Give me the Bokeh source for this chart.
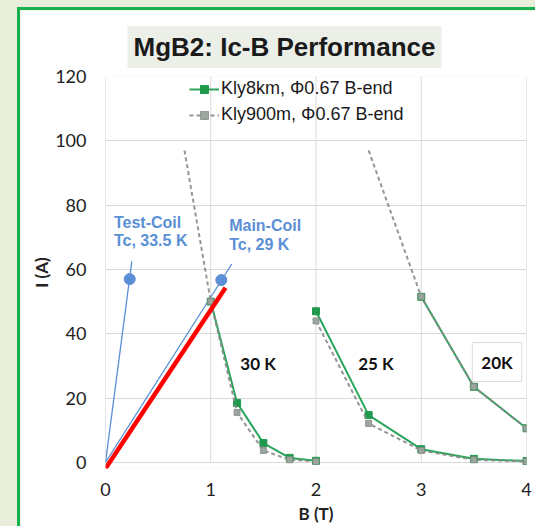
from bokeh.plotting import figure
from bokeh.models import Range1d, Legend, LegendItem, Label, FixedTicker
from bokeh.layouts import column
from bokeh.embed import file_html
from bokeh.resources import INLINE

# Ic-B curves of MgB2 wire: field B (T) vs critical current I (A)
b_30k = [1.0, 1.25, 1.5, 1.75, 2.0]
kly8km_30k = [50, 18.5, 6, 1.4, 0.5]
b_25k = [2.0, 2.5, 3.0, 3.5, 4.0]
kly8km_25k = [47, 14.7, 4.1, 1.1, 0.4]
b_20k = [3.0, 3.5, 4.0]
kly8km_20k = [51.5, 23.5, 10.6]

kly900m_b_30k = [0.75, 1.0, 1.25, 1.5, 1.75, 2.0]
kly900m_30k = [97, 50, 15.5, 3.7, 0.8, 0.3]
kly900m_b_25k = [2.0, 2.5, 3.0, 3.5, 4.0]
kly900m_25k = [44, 12.1, 3.7, 0.8, 0.3]
kly900m_b_20k = [2.5, 3.0, 3.5, 4.0]
kly900m_20k = [97, 51.5, 23.5, 10.6]

# coil load lines and their operating points
test_coil_b = [0.0, 0.25]
test_coil_i = [0.0, 62.5]
test_coil_pt_b = [0.23]
test_coil_pt_i = [57]
main_coil_b = [0.0, 1.2]
main_coil_i = [0.0, 61.7]
main_coil_pt_b = [1.1]
main_coil_pt_i = [56.7]
ramp_b = [0.0, 1.14]
ramp_i = [-1.9, 54.3]

x_ticks = [0, 1, 2, 3, 4]
y_ticks = [0, 20, 40, 60, 80, 100, 120]

GREEN = "#2aa55b"
GRAY = "#8a8a8a"
BLUE = "#5b8fd6"

p = figure(width=518, height=519, x_range=Range1d(0, 4), y_range=Range1d(-1.9, 120),
           output_backend="svg", toolbar_location=None,
           min_border_left=85, min_border_right=12, min_border_top=66, min_border_bottom=61)
p.outline_line_color = None
p.background_fill_color = "white"
p.border_fill_color = "white"

# chart title
p.title.text = "MgB2: Ic-B Performance"
p.title.align = "left"
p.title.offset = 22
p.title.standoff = 17
p.title.text_font = "Liberation Sans"
p.title.text_font_style = "bold"
p.title.text_font_size = "26px"
p.title.text_color = "#1a1a1a"
p.title.background_fill_color = "#eceee8"
p.title.padding = 6

# grid: horizontal lines from the y grid, vertical lines stop at I = 0
p.xgrid.visible = False
p.ygrid.ticker = FixedTicker(ticks=y_ticks)
p.ygrid.grid_line_color = "#d9d9d9"
p.segment(x0=x_ticks, y0=[0] * len(x_ticks), x1=x_ticks, y1=[120] * len(x_ticks),
          line_color="#d9d9d9", line_width=1)

for ax in (p.xaxis[0], p.yaxis[0]):
    ax.axis_line_color = None
    ax.major_tick_line_color = None
    ax.minor_tick_line_color = None
    ax.major_tick_out = 0
    ax.major_tick_in = 0
    ax.minor_tick_out = 0
    ax.minor_tick_in = 0
    ax.major_label_text_font = "Lato"
    ax.major_label_text_font_size = "18px"
    ax.major_label_text_color = "#222222"
    ax.axis_label_text_font = "Lato"
    ax.axis_label_text_font_style = "bold"
    ax.axis_label_text_font_size = "17px"
    ax.axis_label_text_color = "#222222"

p.xaxis.ticker = FixedTicker(ticks=x_ticks)
p.yaxis.ticker = FixedTicker(ticks=y_ticks)
p.xaxis.axis_label = "B (T)"
p.yaxis.axis_label = "I (A)"
p.xaxis.major_label_standoff = 14
p.yaxis.major_label_standoff = 19
p.xaxis.axis_label_standoff = 4
p.yaxis.axis_label_standoff = 0

# coil load lines
p.line(test_coil_b, test_coil_i, line_color=BLUE, line_width=1.3)
p.line(main_coil_b, main_coil_i, line_color=BLUE, line_width=1.3)
p.scatter(test_coil_pt_b, test_coil_pt_i, marker="circle", size=11, fill_color=BLUE, line_color=BLUE)
p.scatter(main_coil_pt_b, main_coil_pt_i, marker="circle", size=11, fill_color=BLUE, line_color=BLUE)

# Kly8km
g_lines, g_pts = [], []
for bx, iy in ((b_30k, kly8km_30k), (b_25k, kly8km_25k), (b_20k, kly8km_20k)):
    g_lines.append(p.line(bx, iy, line_color=GREEN, line_width=2))
    g_pts.append(p.scatter(bx, iy, marker="square", size=7, fill_color="#1f9a4d", line_color="#1f9a4d"))

# Kly900m (the first, off-scale point of a curve carries no marker)
k_lines, k_pts = [], []
for bx, iy in ((kly900m_b_30k, kly900m_30k), (kly900m_b_25k, kly900m_25k), (kly900m_b_20k, kly900m_20k)):
    k_lines.append(p.line(bx, iy, line_color=GRAY, line_width=2, line_dash="4 3", line_alpha=0.9))
    start = 1 if iy[0] > 90 else 0
    k_pts.append(p.scatter(bx[start:], iy[start:], marker="square", size=6,
                           fill_color="#9aa79e", line_color=GRAY, line_alpha=0.8))

# ramp line
p.line(ramp_b, ramp_i, line_color="#ff0000", line_width=4.5)

legend = Legend(items=[
    LegendItem(label="Kly8km, \u03a60.67 B-end", renderers=[g_lines[0], g_pts[0]]),
    LegendItem(label="Kly900m, \u03a60.67 B-end", renderers=[k_lines[0], k_pts[0]]),
], location=(84, 343))
legend.background_fill_alpha = 0
legend.border_line_color = None
legend.padding = 0
legend.margin = 0
legend.spacing = 5
legend.glyph_width = 30
legend.glyph_height = 20
legend.label_height = 20
legend.label_standoff = 2
legend.label_text_font = "Liberation Sans"
legend.label_text_font_size = "18px"
legend.label_text_color = "#1a1a1a"
p.add_layout(legend)

# temperature labels
for txt, bx in (("30 K", 1.45), ("25 K", 2.57)):
    p.add_layout(Label(x=bx, y=30.7, text=txt, text_font="Lato", text_font_style="bold",
                       text_font_size="17px", text_color="#111111",
                       text_align="center", text_baseline="middle"))
p.add_layout(Label(x=3.72, y=31.2, text="20K", text_font="Lato", text_font_style="bold",
                   text_font_size="17px", text_color="#111111", text_align="center",
                   text_baseline="middle", background_fill_color="white",
                   border_line_color="#dcdcdc", padding=9))

# coil annotations
for txt, bx, iy in (("Test-Coil", 0.08, 74.7), ("Tc, 33.5 K", 0.08, 69.0),
                    ("Main-Coil", 1.175, 73.6), ("Tc, 29 K", 1.175, 67.8)):
    p.add_layout(Label(x=bx, y=iy, text=txt, text_font="Liberation Sans", text_font_style="bold",
                       text_font_size="16px", text_color=BLUE, text_align="left",
                       text_baseline="middle"))

p.styles = {"border-left": "3px solid #19b04f", "border-top": "3px solid #19b04f"}
root = column(p, styles={"background-color": "#e9eedb", "padding-left": "17px", "padding-top": "7px"})

open("out.html", "w").write(file_html(root, INLINE))
